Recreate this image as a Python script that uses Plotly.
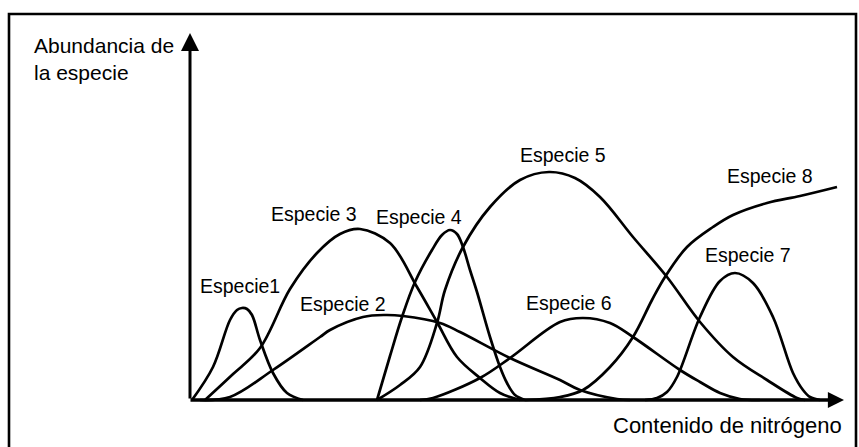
import plotly.graph_objects as go

# Schematic data (nitrogen content units on x, abundance units on y)
sp1_x = [2, 23, 40, 47, 52, 57, 62, 70, 83, 97, 113]
sp1_y = [0, 33, 80, 90, 92, 91, 85, 60, 27, 7, 0]

sp2_x = [10, 40, 83, 130, 140, 173, 195, 213, 250, 270, 320, 370, 390, 427, 440]
sp2_y = [0, 3, 30, 63, 70, 83, 85, 84, 77, 68, 42, 20, 10, 1, 0]

sp3_x = [15, 42, 70, 100, 127, 150, 170, 200, 227, 247, 267, 290, 310, 330]
sp3_y = [0, 25, 52, 111, 147, 166, 171, 157, 113, 78, 43, 22, 7, 0]

sp4_x = [187, 200, 212, 225, 242, 252, 260, 267, 273, 280, 287, 300, 310, 317, 325, 335]
sp4_y = [0, 44, 83, 118, 150, 165, 170, 166, 153, 130, 108, 63, 33, 17, 5, 0]

sp5_x = [187, 210, 230, 247, 255, 273, 300, 330, 359, 385, 410, 443, 477, 510, 543, 577, 607, 615]
sp5_y = [0, 15, 33, 77, 110, 153, 193, 220, 228, 222, 203, 163, 123, 78, 43, 20, 2, 0]

sp6_x = [230, 243, 290, 320, 370, 393, 420, 443, 490, 510, 530, 550, 570]
sp6_y = [0, 2, 22, 42, 78, 82, 77, 63, 30, 18, 7, 1, 0]

sp7_x = [455, 467, 477, 487, 510, 530, 545, 563, 583, 603, 613, 620, 630]
sp7_y = [0, 2, 8, 23, 83, 119, 127, 117, 83, 27, 10, 3, 0]

sp8_x = [335, 370, 393, 420, 443, 462, 475, 497, 523, 543, 577, 610, 647]
sp8_y = [0, 3, 10, 33, 63, 100, 123, 153, 173, 185, 197, 204, 213]

labels = ["Especie1", "Especie 2", "Especie 3", "Especie 4",
          "Especie 5", "Especie 6", "Especie 7", "Especie 8"]
label_x = [50, 153, 124, 229, 373, 379, 558, 580]
label_y = [114, 96, 186, 183, 245, 97, 145, 224]

y_title = "Abundancia de<br>la especie"
x_title = "Contenido de nitrógeno"

FONT = "Liberation Sans, Arial, Helvetica, sans-serif"

series = [(sp1_x, sp1_y), (sp2_x, sp2_y), (sp3_x, sp3_y), (sp4_x, sp4_y),
          (sp5_x, sp5_y), (sp6_x, sp6_y), (sp7_x, sp7_y), (sp8_x, sp8_y)]

fig = go.Figure()
for (xs, ys), name in zip(series, labels):
    fig.add_trace(go.Scatter(x=xs, y=ys, mode="lines", name=name,
                             line=dict(color="black", width=2.7, shape="spline", smoothing=1.0),
                             hoverinfo="skip", showlegend=False))

annotations = []
for t, lx, ly in zip(labels, label_x, label_y):
    annotations.append(dict(x=lx, y=ly, xref="x", yref="y", text=t, showarrow=False,
                            xanchor="center", yanchor="middle",
                            font=dict(family=FONT, size=19.5, color="black")))

# axes drawn as arrows
annotations.append(dict(x=0, y=367, ax=0, ay=0, xref="x", yref="y", axref="x", ayref="y",
                        text="", showarrow=True, arrowhead=2, arrowwidth=3, arrowsize=1.2,
                        arrowcolor="black", standoff=0))
annotations.append(dict(x=654, y=0, ax=-1, ay=0, xref="x", yref="y", axref="x", ayref="y",
                        text="", showarrow=True, arrowhead=2, arrowwidth=3.4, arrowsize=0.95,
                        arrowcolor="black", standoff=0))

annotations.append(dict(x=-158, y=368, xref="x", yref="y", text=y_title, showarrow=False,
                        xanchor="left", yanchor="top", align="left",
                        font=dict(family=FONT, size=21, color="black")))
annotations.append(dict(x=537, y=-25, xref="x", yref="y", text=x_title, showarrow=False,
                        xanchor="center", yanchor="middle",
                        font=dict(family=FONT, size=22, color="black")))

fig.update_layout(
    width=859, height=447, autosize=False,
    margin=dict(l=0, r=0, t=0, b=0),
    paper_bgcolor="white", plot_bgcolor="white",
    xaxis=dict(range=[-190, 669], visible=False, fixedrange=True),
    yaxis=dict(range=[-47, 400], visible=False, fixedrange=True),
    annotations=annotations,
    shapes=[dict(type="rect", xref="paper", yref="paper",
                 x0=9 / 859, x1=856 / 859, y0=-0.1, y1=1 - 14 / 447,
                 line=dict(color="black", width=2.6))],
)

fig.write_html("out.html", config={"displayModeBar": False, "staticPlot": True},
               post_script="document.body.style.margin='0';document.body.style.overflow='hidden';")
